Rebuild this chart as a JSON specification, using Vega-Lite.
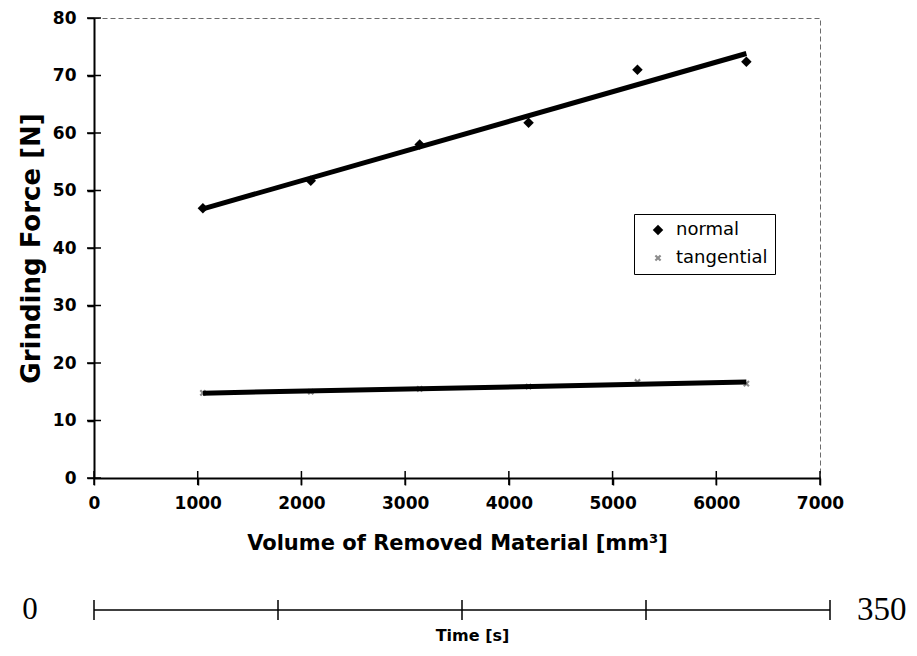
{
  "$schema": "https://vega.github.io/schema/vega-lite/v6.json",
  "background": "white",
  "padding": {"left": 17, "top": 8, "right": 5, "bottom": 5},
  "bounds": "flush",
  "spacing": 122,
  "datasets": {
    "forces": [
      {"volume": 1050, "force": 46.9, "series": "normal"},
      {"volume": 2090, "force": 51.7, "series": "normal"},
      {"volume": 3140, "force": 58.0, "series": "normal"},
      {"volume": 4190, "force": 61.8, "series": "normal"},
      {"volume": 5240, "force": 71.0, "series": "normal"},
      {"volume": 6290, "force": 72.4, "series": "normal"},
      {"volume": 1050, "force": 14.8, "series": "tangential"},
      {"volume": 2090, "force": 15.0, "series": "tangential"},
      {"volume": 3140, "force": 15.5, "series": "tangential"},
      {"volume": 4190, "force": 15.9, "series": "tangential"},
      {"volume": 5240, "force": 16.7, "series": "tangential"},
      {"volume": 6290, "force": 16.4, "series": "tangential"}
    ],
    "forceTicks": [
      {"force": 0}, {"force": 10}, {"force": 20}, {"force": 30}, {"force": 40},
      {"force": 50}, {"force": 60}, {"force": 70}, {"force": 80}
    ],
    "volumeTicks": [
      {"volume": 0}, {"volume": 1000}, {"volume": 2000}, {"volume": 3000},
      {"volume": 4000}, {"volume": 5000}, {"volume": 6000}, {"volume": 7000}
    ],
    "timeSpan": [{"start": 0, "end": 350}],
    "timeTicks": [
      {"time": 0}, {"time": 87.5}, {"time": 175}, {"time": 262.5}, {"time": 350}
    ],
    "timeEnds": [
      {"time": 0, "label": "0"},
      {"time": 350, "label": "350"}
    ]
  },
  "config": {
    "font": "DejaVu Sans",
    "view": {"stroke": null},
    "axis": {"grid": false, "labelColor": "black", "titleColor": "black"}
  },
  "vconcat": [
    {
      "width": 726,
      "height": 460,
      "view": {"stroke": "#6b6b6b", "strokeDash": [5, 3], "strokeWidth": 1},
      "layer": [
        {
          "data": {"name": "forces"},
          "mark": {"type": "point", "filled": true, "opacity": 1, "size": 110},
          "encoding": {
            "x": {
              "field": "volume",
              "type": "quantitative",
              "title": "Volume of Removed Material [mm³]",
              "scale": {"domain": [0, 7000], "nice": false},
              "axis": {
                "values": [0, 1000, 2000, 3000, 4000, 5000, 6000, 7000],
                "format": "d",
                "labelFont": "DejaVu Sans",
                "labelFontWeight": "bold",
                "labelFontSize": 17,
                "labelPadding": 10,
                "labelFlush": false,
                "tickSize": 7,
                "tickColor": "black",
                "tickWidth": 1.5,
                "domainColor": "black",
                "domainWidth": 2,
                "titleFont": "DejaVu Sans",
                "titleFontSize": 21,
                "titleFontWeight": "bold",
                "titlePadding": 21
              }
            },
            "y": {
              "field": "force",
              "type": "quantitative",
              "title": "Grinding Force [N]",
              "scale": {"domain": [0, 80], "nice": false},
              "axis": {
                "values": [0, 10, 20, 30, 40, 50, 60, 70, 80],
                "labelFont": "DejaVu Sans",
                "labelFontWeight": "bold",
                "labelFontSize": 17,
                "labelPadding": 11,
                "labelFlush": false,
                "tickSize": 7,
                "tickColor": "black",
                "tickWidth": 1.5,
                "domainColor": "black",
                "domainWidth": 2,
                "titleFont": "DejaVu Sans",
                "titleFontSize": 26,
                "titleFontWeight": "bold",
                "titlePadding": 8
              }
            },
            "shape": {
              "field": "series",
              "type": "nominal",
              "scale": {
                "domain": ["normal", "tangential"],
                "range": ["diamond", "M-1,-0.55L-0.55,-1L0,-0.45L0.55,-1L1,-0.55L0.45,0L1,0.55L0.55,1L0,0.45L-0.55,1L-1,0.55L-0.45,0Z"]
              },
              "legend": {
                "title": null,
                "orient": "none",
                "legendX": 540,
                "legendY": 196,
                "strokeColor": "black",
                "fillColor": "white",
                "padding": 7,
                "rowPadding": 10,
                "labelFont": "DejaVu Sans",
                "labelFontSize": 18,
                "labelColor": "black",
                "labelOffset": 9,
                "symbolSize": 90,
                "symbolOffset": 8,
                "symbolStrokeWidth": 0
              }
            },
            "color": {
              "field": "series",
              "type": "nominal",
              "scale": {"domain": ["normal", "tangential"], "range": ["#000000", "#8c8c8c"]},
              "legend": {
                "title": null,
                "orient": "none",
                "legendX": 540,
                "legendY": 196,
                "strokeColor": "black",
                "fillColor": "white",
                "padding": 7,
                "rowPadding": 10,
                "labelFont": "DejaVu Sans",
                "labelFontSize": 18,
                "labelColor": "black",
                "labelOffset": 9,
                "symbolSize": 90,
                "symbolOffset": 8,
                "symbolStrokeWidth": 0
              }
            },
            "size": {
              "field": "series",
              "type": "nominal",
              "scale": {"domain": ["normal", "tangential"], "range": [110, 45]},
              "legend": null
            }
          }
        },
        {
          "data": {"name": "forces"},
          "transform": [{"regression": "force", "on": "volume", "groupby": ["series"]}],
          "mark": {"type": "line", "color": "black", "strokeWidth": 5},
          "encoding": {
            "x": {"field": "volume", "type": "quantitative", "title": "Volume of Removed Material [mm³]"},
            "y": {"field": "force", "type": "quantitative", "title": "Grinding Force [N]"},
            "detail": {"field": "series"}
          }
        },
        {
          "data": {"name": "forceTicks"},
          "mark": {"type": "tick", "orient": "horizontal", "color": "black", "size": 14, "thickness": 1.5, "opacity": 1},
          "encoding": {
            "x": {"datum": 0, "type": "quantitative"},
            "y": {"field": "force", "type": "quantitative", "title": "Grinding Force [N]"}
          }
        },
        {
          "data": {"name": "volumeTicks"},
          "mark": {"type": "tick", "orient": "vertical", "color": "black", "size": 14, "thickness": 1.5, "opacity": 1},
          "encoding": {
            "x": {"field": "volume", "type": "quantitative", "title": "Volume of Removed Material [mm³]"},
            "y": {"datum": 0, "type": "quantitative"}
          }
        }
      ]
    },
    {
      "width": 736,
      "height": 20,
      "view": {"stroke": null},
      "layer": [
        {
          "data": {"name": "timeSpan"},
          "mark": {"type": "rule", "color": "black", "strokeWidth": 1.5},
          "encoding": {
            "x": {
              "field": "start",
              "type": "quantitative",
              "title": "Time [s]",
              "scale": {"domain": [0, 350], "nice": false},
              "axis": {
                "domain": false,
                "ticks": false,
                "labels": false,
                "titleFont": "DejaVu Sans",
                "titleFontSize": 16,
                "titleFontWeight": "bold",
                "titlePadding": 7,
                "titleX": 378
              }
            },
            "x2": {"field": "end"},
            "y": {"datum": 0, "type": "quantitative", "scale": {"domain": [-1, 1]}, "axis": null}
          }
        },
        {
          "data": {"name": "timeTicks"},
          "mark": {"type": "tick", "orient": "vertical", "color": "black", "size": 20, "thickness": 1.5, "opacity": 1},
          "encoding": {
            "x": {"field": "time", "type": "quantitative", "title": "Time [s]"},
            "y": {"datum": 0, "type": "quantitative", "axis": null}
          }
        },
        {
          "data": {"name": "timeEnds"},
          "transform": [{"filter": "datum.time == 0"}],
          "mark": {"type": "text", "font": "Liberation Serif", "fontSize": 31, "baseline": "middle", "align": "center", "dx": -64, "color": "black"},
          "encoding": {
            "x": {"field": "time", "type": "quantitative", "title": "Time [s]"},
            "y": {"datum": 0, "type": "quantitative", "axis": null},
            "text": {"field": "label"}
          }
        },
        {
          "data": {"name": "timeEnds"},
          "transform": [{"filter": "datum.time == 350"}],
          "mark": {"type": "text", "font": "Liberation Serif", "fontSize": 33, "baseline": "middle", "align": "left", "dx": 27, "color": "black"},
          "encoding": {
            "x": {"field": "time", "type": "quantitative", "title": "Time [s]"},
            "y": {"datum": 0, "type": "quantitative", "axis": null},
            "text": {"field": "label"}
          }
        }
      ]
    }
  ]
}
